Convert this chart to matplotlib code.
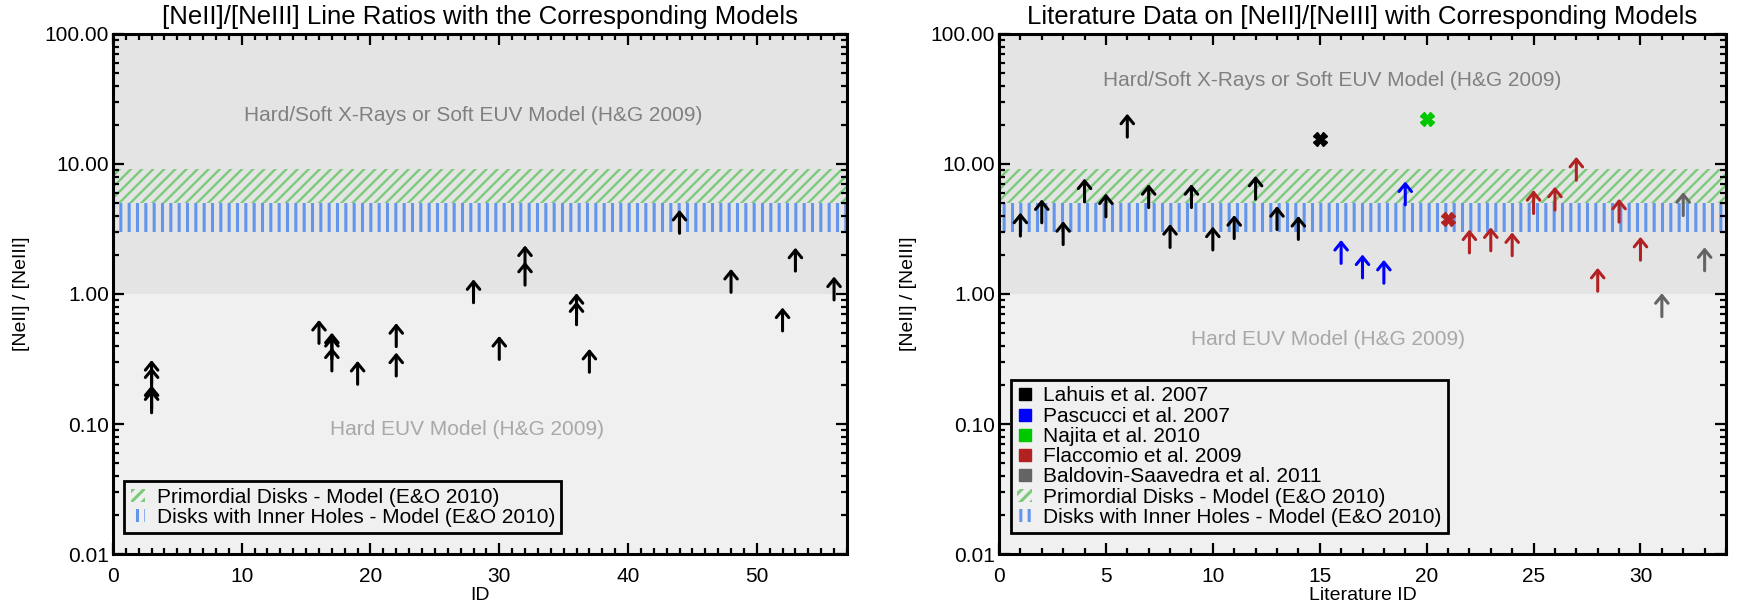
import numpy as np
import matplotlib
matplotlib.use("Agg")
import matplotlib.pyplot as plt
from matplotlib.lines import Line2D
from matplotlib.patches import Patch
from matplotlib.ticker import FixedLocator, LogLocator, MultipleLocator, NullFormatter

plt.rcParams['font.family'] = ['Liberation Sans', 'DejaVu Sans']
plt.rcParams['hatch.linewidth'] = 2.0

# left panel: lower limits of [NeII]/[NeIII] (arrow base)
left_id = [3, 3, 3, 3, 16, 17, 17, 17, 19, 22, 22, 28, 30, 32, 32, 36, 36, 37, 44, 48, 52, 53, 56]
left_ratio = [0.205, 0.18, 0.131, 0.122, 0.417, 0.333, 0.314, 0.256, 0.202, 0.394, 0.234,
              0.857, 0.314, 1.56, 1.17, 0.67, 0.58, 0.25, 2.93, 1.03, 0.52, 1.50, 0.90]

# right panel: literature data
lahuis_id = [1, 2, 3, 4, 5, 6, 7, 8, 9, 10, 11, 12, 13, 14]
lahuis_lim = [2.79, 3.53, 2.40, 5.11, 3.92, 16.1, 4.62, 2.28, 4.62, 2.18, 2.67, 5.36, 3.13, 2.63]
lahuis_det_id = [15]
lahuis_det = [15.6]
pascucci_id = [16, 17, 18, 19]
pascucci_lim = [1.72, 1.33, 1.21, 4.85]
najita_det_id = [20]
najita_det = [22.0]
flaccomio_det_id = [21]
flaccomio_det = [3.8]
flaccomio_id = [22, 23, 24, 25, 26, 27, 28, 29, 30]
flaccomio_lim = [2.07, 2.15, 1.97, 4.16, 4.42, 7.5, 1.05, 3.57, 1.82]
baldovin_id = [31, 32, 33]
baldovin_lim = [0.67, 4.01, 1.51]

# model ranges (E&O 2010)
primordial = (5.0, 9.2)
inner_holes = (3.0, 5.0)

c_black = 'black'
c_blue = '#0000ff'
c_green = '#00c800'
c_red = '#b22222'
c_gray = '#646464'
c_hatch_green = '#7acb7a'
c_hatch_blue = '#6495ed'
ARROW = 10 ** 0.18


def arrows(ax, xs, ys, color):
    for x, y in zip(xs, ys):
        ax.annotate('', xy=(x, y * ARROW), xytext=(x, y),
                    arrowprops=dict(arrowstyle='->,head_length=0.55,head_width=0.45',
                                    color=color, lw=2.2, shrinkA=0, shrinkB=0,
                                    mutation_scale=10), zorder=4)


def setup(ax, xmax, major, title, xlabel, hard_soft_pos, hard_euv_pos):
    ax.set_yscale('log')
    ax.set_xlim(0, xmax)
    ax.set_ylim(0.01, 100)
    ax.axhspan(1, 100, color='#e4e4e4', lw=0, zorder=0)
    ax.axhspan(0.01, 1, color='#f0f0f0', lw=0, zorder=0)
    plt.rcParams['hatch.linewidth'] = 1.7
    ax.axhspan(*primordial, facecolor='none', edgecolor=c_hatch_green, hatch='///', lw=0, zorder=1)
    plt.rcParams['hatch.linewidth'] = 2.2
    ax.axhspan(*inner_holes, facecolor='none', edgecolor=c_hatch_blue, hatch='||', lw=0, zorder=1)
    ax.text(*hard_soft_pos, 'Hard/Soft X-Rays or Soft EUV Model (H&G 2009)', color='#808080',
            fontsize=15, ha='center', va='center', zorder=2)
    ax.text(*hard_euv_pos, 'Hard EUV Model (H&G 2009)', color='#a8a8a8',
            fontsize=15, ha='center', va='center', zorder=2)
    ax.yaxis.set_major_locator(FixedLocator([0.01, 0.1, 1, 10, 100]))
    ax.set_yticklabels(['0.01', '0.10', '1.00', '10.00', '100.00'])
    ax.yaxis.set_minor_locator(LogLocator(base=10, subs=np.arange(2, 10)))
    ax.yaxis.set_minor_formatter(NullFormatter())
    ax.xaxis.set_major_locator(MultipleLocator(major))
    ax.xaxis.set_minor_locator(MultipleLocator(1))
    ax.tick_params(which='both', direction='in', top=True, right=True, width=1.6, labelsize=15)
    ax.tick_params(which='major', length=8)
    ax.tick_params(which='minor', length=4.5)
    ax.tick_params(axis='y', pad=3)
    ax.tick_params(axis='x', pad=9)
    for s in ax.spines.values():
        s.set_linewidth(2.2)
    ax.set_title(title, fontsize=18.5, pad=7)
    ax.set_xlabel(xlabel, fontsize=14)
    ax.set_ylabel('[NeII] / [NeIII]', fontsize=14)
    ax.xaxis.set_label_coords(0.5, -0.063)
    ax.yaxis.set_label_coords(-0.113, 0.5)


fig = plt.figure(figsize=(17.38, 6.09), dpi=100)
ax1 = fig.add_axes([0.0650, 0.0903, 0.4223, 0.8539])
ax2 = fig.add_axes([0.5748, 0.0903, 0.4183, 0.8539])

setup(ax1, 57, 10, '[NeII]/[NeIII] Line Ratios with the Corresponding Models', 'ID',
      (28.0, 23.5), (27.5, 0.09))
setup(ax2, 34, 5, 'Literature Data on [NeII]/[NeIII] with Corresponding Models', 'Literature ID',
      (15.6, 44), (15.4, 0.45))

arrows(ax1, left_id, left_ratio, c_black)

arrows(ax2, lahuis_id, lahuis_lim, c_black)
arrows(ax2, pascucci_id, pascucci_lim, c_blue)
arrows(ax2, flaccomio_id, flaccomio_lim, c_red)
arrows(ax2, baldovin_id, baldovin_lim, c_gray)
for ids, vals, c in [(lahuis_det_id, lahuis_det, c_black), (najita_det_id, najita_det, c_green),
                     (flaccomio_det_id, flaccomio_det, c_red)]:
    ax2.plot(ids, vals, ls='none', marker='X', ms=10, color=c, mec=c, zorder=5)

plt.rcParams['hatch.linewidth'] = 1.7
hatch_green = Patch(facecolor='none', edgecolor=c_hatch_green, hatch='///', lw=0,
                    label='Primordial Disks - Model (E&O 2010)')
plt.rcParams['hatch.linewidth'] = 2.2
hatch_blue = Patch(facecolor='none', edgecolor=c_hatch_blue, hatch='||', lw=0,
                   label='Disks with Inner Holes - Model (E&O 2010)')
model_handles = [hatch_green, hatch_blue]
data_handles = [
    Line2D([], [], ls='none', marker='s', ms=8, color=c_black, label='Lahuis et al. 2007'),
    Line2D([], [], ls='none', marker='s', ms=8, color=c_blue, label='Pascucci et al. 2007'),
    Line2D([], [], ls='none', marker='s', ms=8, color=c_green, label='Najita et al. 2010'),
    Line2D([], [], ls='none', marker='s', ms=8, color=c_red, label='Flaccomio et al. 2009'),
    Line2D([], [], ls='none', marker='s', ms=8, color=c_gray, label='Baldovin-Saavedra et al. 2011'),
]

for ax, handles, anchor in [(ax1, model_handles, (0.0157, 0.040)),
                            (ax2, data_handles + model_handles, (0.0165, 0.040))]:
    leg = ax.legend(handles=handles, loc='lower left', bbox_to_anchor=anchor,
                    borderaxespad=0, fontsize=15, handlelength=0.7, handleheight=0.6,
                    handletextpad=0.55, labelspacing=0.06, borderpad=0.3,
                    fancybox=False, framealpha=1, facecolor='#f0f0f0', edgecolor='black')
    leg.get_frame().set_linewidth(2)
    leg.set_zorder(6)

fig.savefig('out.png', dpi=100)
